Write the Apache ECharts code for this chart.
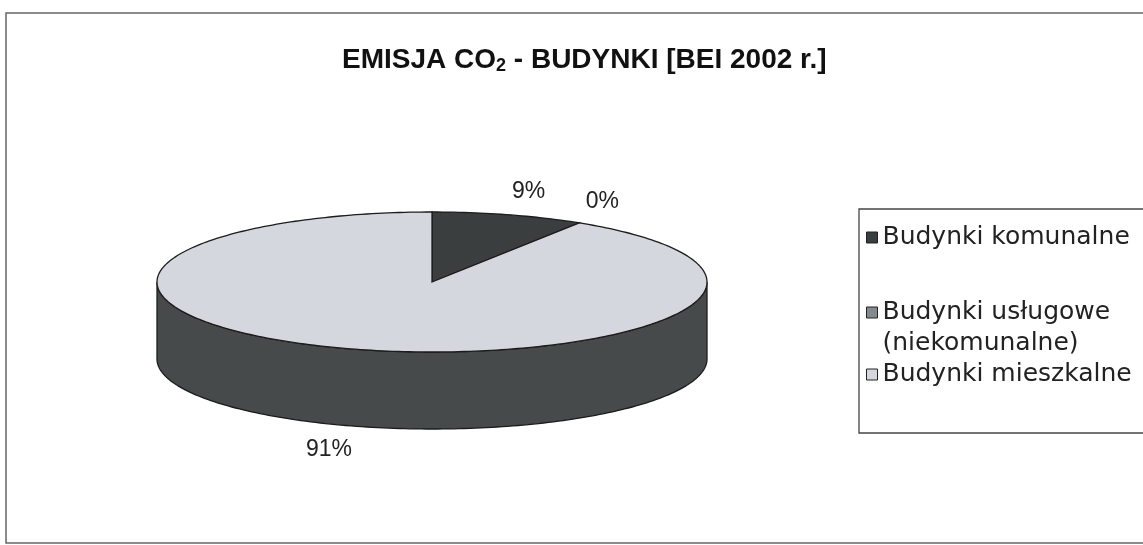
<!DOCTYPE html>
<html>
<head>
<meta charset="utf-8">
<script src="https://cdn.jsdelivr.net/npm/echarts@6/dist/echarts.min.js"></script>
<style>
  html, body { margin: 0; padding: 0; background: #fff; }
  #chart { width: 1143px; height: 545px; }
</style>
</head>
<body>
<div id="chart"></div>
<script>
// dane wykresu
var categories = ['Budynki komunalne', 'Budynki usługowe\n(niekomunalne)', 'Budynki mieszkalne'];
var values = [9, 0, 91];
var topColors = ['#3b3e3f', '#858a90', '#d5d7df'];
var sideColor = '#464a4b';

var total = values.reduce(function (a, b) { return a + b; }, 0);
var startAngles = [];
var acc = 0;
values.forEach(function (v) {
  startAngles.push(acc / total * Math.PI * 2);
  acc += v;
});

// geometria "3D" tortu
var cx = 432, cy = 282, rx = 275, ry = 70, depth = 77;
var font = '"Liberation Sans", Arial, sans-serif';
var legendFont = '"DejaVu Sans", "Liberation Sans", sans-serif';

function pt(a, dy) {
  return [cx + rx * Math.sin(a), cy - ry * Math.cos(a) + (dy || 0)];
}

function arcPoints(a0, a1, dy) {
  var pts = [];
  var n = Math.max(2, Math.ceil((a1 - a0) / 0.02));
  for (var k = 0; k <= n; k++) {
    pts.push(pt(a0 + (a1 - a0) * k / n, dy));
  }
  return pts;
}

function renderItem(params, api) {
  var i = params.dataIndex;
  var v = api.value(0);
  var a0 = startAngles[i];
  var a1 = a0 + v / total * Math.PI * 2;
  var children = [];

  // boczna scianka - tylko przednia polowa
  var s = Math.max(a0, Math.PI / 2);
  var e = Math.min(a1, Math.PI * 1.5);
  if (e > s) {
    var side = arcPoints(s, e, 0).concat(arcPoints(s, e, depth).reverse());
    children.push({
      type: 'polygon',
      shape: { points: side },
      style: { fill: sideColor, stroke: '#1c1c1c', lineWidth: 1.3 }
    });
  }

  // gorna powierzchnia
  if (a1 > a0) {
    children.push({
      type: 'polygon',
      shape: { points: [[cx, cy]].concat(arcPoints(a0, a1, 0)) },
      style: { fill: topColors[i], stroke: '#1c1c1c', lineWidth: 1.3 }
    });
  }

  // etykieta procentowa
  var mid = (a0 + a1) / 2;
  var lower = Math.cos(mid) < 0;
  var p = pt(mid, lower ? depth : 0);
  var ux = Math.sin(mid), uy = -Math.cos(mid);
  children.push({
    type: 'text',
    x: p[0] + ux * 12,
    y: p[1] + uy * 12,
    style: {
      text: Math.round(v / total * 100) + '%',
      font: '23px ' + font,
      fill: '#222',
      align: ux >= 0 ? 'left' : 'right',
      verticalAlign: lower ? 'top' : 'bottom'
    }
  });

  return { type: 'group', children: children };
}

var chart = echarts.init(document.getElementById('chart'), null, { renderer: 'canvas' });

var option = {
  animation: false,
  backgroundColor: '#fff',
  title: {
    left: 337,
    top: 41,
    text: '{a|EMISJA CO}{s|2}{a| - BUDYNKI [BEI 2002 r.]}',
    textStyle: {
      rich: {
        a: { fontFamily: font, fontSize: 28, fontWeight: 'bold', color: '#111' },
        s: { fontFamily: font, fontSize: 18, fontWeight: 'bold', color: '#111', padding: [11, 0, 0, 0] }
      }
    }
  },
  legend: {
    orient: 'vertical',
    left: 859,
    top: 209,
    padding: [0, 60, 43, 7],
    itemGap: 0,
    itemWidth: 11,
    itemHeight: 11,
    icon: 'rect',
    borderColor: '#444',
    borderWidth: 1.3,
    itemStyle: { borderColor: '#222', borderWidth: 1 },
    textStyle: { fontFamily: legendFont, fontSize: 25, color: '#222', lineHeight: 31 },
    // pusta linia przed wpisem dwuwierszowym, zeby ikona stala przy pierwszym wierszu
    formatter: function (name) {
      return name.indexOf('\n') >= 0 ? ' \n' + name : name;
    },
    data: [
      { name: categories[0], textStyle: { padding: [13, 0, 13, 0] } },
      { name: categories[1] },
      { name: categories[2] }
    ]
  },
  graphic: [{
    type: 'rect',
    z: -10,
    shape: { x: 6, y: 13, width: 1300, height: 530 },
    style: { fill: 'none', stroke: '#666', lineWidth: 1.5 }
  }],
  series: [
    {
      // tylko dla legendy
      type: 'pie',
      radius: [0, 0],
      silent: true,
      label: { show: false },
      labelLine: { show: false },
      data: categories.map(function (c, i) {
        return { name: c, value: values[i], itemStyle: { color: topColors[i] } };
      })
    },
    {
      type: 'custom',
      coordinateSystem: 'none',
      silent: true,
      renderItem: renderItem,
      data: categories.map(function (c, i) {
        return { name: c, value: values[i] };
      })
    }
  ]
};

chart.setOption(option);
</script>
</body>
</html>
